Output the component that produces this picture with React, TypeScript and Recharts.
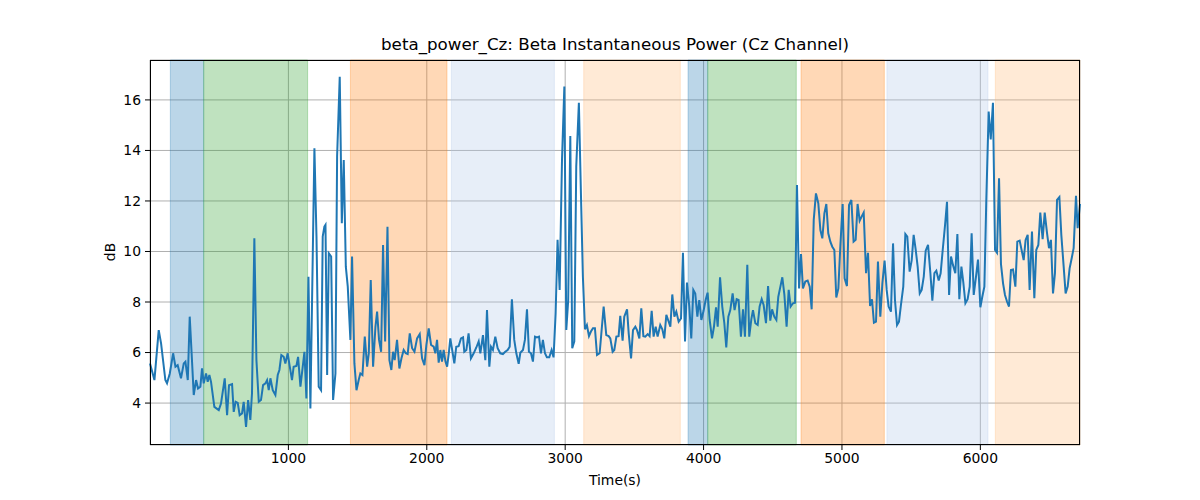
import { LineChart, Line, XAxis, YAxis, CartesianGrid, ReferenceArea } from 'recharts';

// sample times (s) and Cz beta power (dB)
const timeSec = [
  0, 32, 63, 80, 111, 123, 143, 167, 184, 200, 224, 244, 256, 273, 287, 302, 316, 333, 347, 364,
  376, 388, 405, 417, 429, 441, 465, 497, 513, 540, 557, 571, 593, 605, 619, 634, 648, 665, 677, 694,
  709, 725, 737, 754, 769, 786, 802, 817, 834, 846, 858, 870, 887, 906, 923, 935, 949, 966, 978, 995,
  1010, 1026, 1038, 1058, 1070, 1087,
  1116, 1130, 1145, 1159, 1188, 1203, 1219, 1236, 1248, 1260, 1268, 1280, 1292, 1309, 1323, 1340, 1352, 1371, 1386, 1400,
  1415, 1429, 1448, 1460, 1477, 1492, 1508, 1520, 1535, 1552, 1569, 1581, 1595, 1612, 1629, 1641, 1655, 1670, 1684, 1699,
  1716, 1730, 1744, 1756, 1768, 1785, 1802, 1817, 1833, 1848, 1862, 1877, 1894, 1911, 1930, 1949, 1966, 1983, 1997, 2014,
  2031, 2050, 2062, 2074, 2086, 2098, 2110, 2122, 2135, 2147, 2159,
  2170, 2199, 2213, 2230, 2247, 2262, 2271, 2286, 2302, 2319, 2339, 2358, 2375, 2387, 2406, 2423, 2435, 2452, 2464, 2478,
  2495, 2512, 2531, 2550, 2567, 2584, 2599, 2615, 2632, 2647, 2664, 2676, 2695, 2709, 2724, 2738, 2753, 2767, 2782, 2796,
  2811, 2825, 2839, 2854, 2868, 2885, 2902, 2916, 2931, 2945, 2960, 2977, 2994, 3008, 3022, 3037, 3051, 3066, 3080, 3099,
  3116, 3128, 3143, 3157, 3172, 3186, 3201, 3215, 3230, 3249,
  3278, 3297, 3314, 3326, 3343, 3355, 3370, 3386, 3398, 3415, 3427, 3447, 3459, 3476, 3490, 3507, 3519, 3536, 3550, 3565,
  3579, 3596, 3610, 3625, 3639, 3654, 3668, 3687, 3702, 3716, 3731, 3748, 3760, 3774, 3789, 3803, 3820, 3837, 3851, 3866,
  3880, 3897, 3911, 3926, 3940, 3955, 3969, 3984, 4000, 4015, 4029, 4044, 4061, 4075, 4090, 4102, 4119, 4135, 4150, 4164,
  4179, 4193, 4210, 4224, 4239, 4253, 4270, 4285, 4299, 4316, 4330, 4345, 4357, 4374, 4391,
  4405, 4420, 4434, 4451, 4466, 4482, 4495, 4511, 4526, 4540, 4555, 4569, 4584, 4600, 4615, 4629, 4646, 4661, 4675, 4690,
  4704, 4718, 4735, 4752, 4767, 4781, 4796, 4812, 4829, 4844, 4858, 4873, 4887, 4901, 4916, 4930, 4945, 4959, 4974, 4988,
  5005, 5019, 5036, 5051, 5068, 5084, 5099, 5113, 5128, 5142, 5157, 5174, 5188, 5203, 5217, 5231, 5246, 5260, 5277, 5292,
  5308, 5323, 5337, 5354, 5369, 5383, 5398, 5412, 5426, 5443, 5458, 5472, 5489,
  5504, 5518, 5533, 5547, 5562, 5576, 5591, 5605, 5622, 5639, 5653, 5668, 5682, 5699, 5713, 5728, 5745, 5759, 5774, 5788,
  5802, 5819, 5834, 5848, 5863, 5877, 5892, 5908, 5923, 5937, 5952, 5969, 5983, 6000, 6014, 6029, 6043, 6060, 6075, 6091,
  6106, 6120, 6135, 6149, 6164, 6178, 6193, 6207, 6221, 6236, 6253, 6267, 6284, 6298, 6313, 6327, 6342, 6356, 6373, 6390,
  6404, 6419, 6433, 6450, 6465, 6482, 6496, 6510, 6525, 6539, 6554, 6571, 6585, 6602, 6616, 6631, 6645, 6660, 6674, 6691,
  6703, 6720,
];

const betaDb = [
  5.57, 4.91, 6.89, 6.36, 4.91, 4.78, 5.17, 5.97, 5.44, 5.5, 4.98, 5.57, 5.64, 4.91, 7.42, 5.83, 4.32, 4.91, 4.58, 4.65,
  5.37, 4.78, 5.17, 4.84, 5.11, 4.84, 3.85, 3.72, 3.98, 4.98, 3.52, 4.71, 4.75, 3.65, 4.05, 4.01, 3.52, 3.59, 4.05, 3.06,
  4.12, 3.33, 4.38, 10.52, 5.7, 4.05, 4.12, 4.71, 4.78, 4.91, 4.51, 4.98, 4.51, 4.32, 5.11, 5.31, 5.9, 5.83, 5.57, 5.97,
  5.44, 4.91, 5.44, 5.47, 5.83, 4.65,
  6.03, 4.18, 9.0, 3.79, 14.09, 10.59, 4.65, 4.51, 10.59, 10.98, 11.05, 5.11, 9.93, 9.8, 4.12, 5.17, 13.76, 16.92, 11.12, 13.62,
  9.4, 8.61, 6.5, 9.8, 5.57, 4.51, 4.91, 5.17, 5.11, 6.63, 5.44, 5.97, 8.87, 5.44, 7.02, 7.62, 6.5, 6.03, 10.26, 6.44,
  10.98, 5.7, 5.31, 6.03, 5.7, 6.5, 5.37, 5.77, 6.1, 5.97, 5.94, 6.76, 6.17, 6.03, 6.56, 6.73, 5.77, 5.5, 6.3, 6.96,
  6.3, 6.23, 5.97, 6.5, 5.6, 6.1, 5.64, 6.1, 5.64, 5.44, 5.97,
  6.56, 5.57, 6.23, 6.25, 6.56, 6.6, 6.03, 6.1, 6.76, 5.77, 5.97, 6.2, 6.44, 5.97, 6.69, 5.7, 7.68, 5.44, 6.23, 6.1,
  6.63, 6.17, 5.97, 5.94, 6.03, 6.1, 6.23, 8.11, 6.5, 5.97, 5.55, 5.99, 6.1, 6.5, 7.71, 6.03, 5.97, 5.64, 6.63, 6.6,
  6.63, 5.97, 6.5, 5.97, 5.81, 5.81, 6.1, 5.81, 7.55, 10.46, 8.48, 13.62, 16.53, 6.89, 8.08, 14.57, 6.17, 6.44, 13.36, 15.89,
  11.78, 9.0, 6.92, 7.09, 6.65, 6.83, 6.96, 6.96, 5.9, 5.97,
  7.82, 6.69, 6.65, 6.56, 6.03, 6.1, 6.63, 6.65, 7.45, 6.47, 7.42, 7.71, 6.76, 5.77, 6.89, 7.02, 6.89, 6.56, 7.75, 6.65,
  6.63, 6.73, 6.65, 7.65, 6.63, 7.02, 6.63, 7.09, 6.92, 6.56, 7.49, 7.22, 7.02, 8.3, 7.42, 7.62, 7.22, 7.35, 9.95, 6.44,
  8.77, 7.82, 6.56, 8.48, 8.34, 7.42, 8.08, 7.29, 7.65, 8.08, 8.37, 7.29, 6.56, 7.02, 7.79, 7.02, 8.98, 7.82, 7.16, 6.2,
  7.42, 7.68, 8.34, 7.68, 8.11, 8.08, 6.63, 7.71, 6.63, 9.47, 6.63, 7.31, 7.68, 7.16, 7.09,
  7.82, 8.11, 7.88, 7.16, 8.63, 7.26, 7.71, 7.42, 7.29, 8.21, 8.61, 8.98, 8.28, 7.02, 8.48, 7.82, 7.95, 7.97, 12.63, 8.54,
  9.9, 8.54, 8.81, 8.85, 8.61, 7.71, 11.25, 12.3, 11.91, 10.85, 10.52, 11.51, 11.88, 10.72, 10.39, 10.19, 10.06, 8.18, 8.54, 10.19,
  11.88, 8.94, 8.63, 11.84, 12.04, 10.39, 10.46, 11.88, 11.22, 11.38, 11.54, 9.14, 9.95, 7.84, 8.11, 7.18, 7.22, 9.6, 7.42, 8.74,
  9.64, 8.48, 7.82, 7.62, 10.32, 8.08, 7.09, 7.22, 7.88, 8.61, 10.69, 10.59, 9.2,
  9.66, 10.66, 10.06, 9.4, 8.34, 8.48, 9.0, 10.03, 10.26, 9.14, 8.05, 9.14, 9.24, 8.85, 9.14, 10.06, 11.05, 11.97, 8.28, 9.8,
  9.47, 9.14, 10.69, 8.11, 9.4, 8.77, 7.95, 8.11, 8.61, 10.72, 8.28, 9.02, 9.68, 7.79, 8.21, 8.61, 12.04, 15.54, 14.44, 15.89,
  10.06, 9.95, 12.9, 9.5, 8.74, 8.28, 8.01, 7.82, 9.27, 9.29, 8.61, 10.39, 10.43, 10.06, 9.66, 10.46, 10.66, 8.48, 10.79, 8.15,
  10.06, 10.26, 11.54, 10.49, 11.54, 10.72, 10.13, 10.46, 8.34, 9.14, 12.04, 12.15, 10.66, 9.4, 8.34, 8.61, 9.33, 9.73, 10.13, 12.2,
  10.92, 11.88,
];

// shaded task segments
const bandStart = [147, 388, 1448, 2178, 3134, 3888, 4030, 4704, 5325, 6108];
const bandEnd = [388, 1139, 2146, 2922, 3832, 4030, 4670, 5306, 6055, 6720];
const bandKind = ['blue', 'green', 'orange', 'lightblue', 'lightorange', 'blue', 'green', 'orange', 'lightblue', 'lightorange'];

const xTicks = [1000, 2000, 3000, 4000, 5000, 6000];
const yTicks = [4, 6, 8, 10, 12, 14, 16];

const bandColors: Record<string, string> = {
  blue: '#1f77b4',
  green: '#2ca02c',
  orange: '#ff7f0e',
  lightblue: '#aec7e8',
  lightorange: '#ffbb78',
};

const font = '"DejaVu Sans", sans-serif';

export default function App() {
  const data = timeSec.map((t, i) => ({ time: t, db: betaDb[i] }));

  return (
    <div style={{ position: 'absolute', left: 0, top: 0, width: 1200, height: 500, background: '#fff', fontFamily: font }}>
      <div style={{ position: 'absolute', left: 150, width: 930, top: 34, textAlign: 'center', fontSize: 16.7, color: '#000' }}>
        beta_power_Cz: Beta Instantaneous Power (Cz Channel)
      </div>

      <LineChart width={1200} height={500} data={data} margin={{ top: 60, right: 120, bottom: 25, left: 100 }}>
        <CartesianGrid stroke="#b0b0b0" strokeWidth={1} />
        {bandStart.map((s, i) => (
          <ReferenceArea
            key={i}
            x1={s}
            x2={bandEnd[i]}
            fill={bandColors[bandKind[i]]}
            fillOpacity={0.3}
            stroke={bandColors[bandKind[i]]}
            strokeOpacity={0.3}
          />
        ))}
        <XAxis
          dataKey="time"
          type="number"
          domain={[0, 6720]}
          ticks={xTicks}
          height={30}
          axisLine={false}
          tickLine={{ stroke: '#000' }}
          tickSize={5}
          tickMargin={3}
          tick={{ fill: '#000', fontSize: 13.9, fontFamily: font }}
        />
        <YAxis
          type="number"
          domain={[2.34, 17.58]}
          ticks={yTicks}
          width={50}
          axisLine={false}
          tickLine={{ stroke: '#000' }}
          tickSize={5}
          tickMargin={4}
          tick={{ fill: '#000', fontSize: 13.9, fontFamily: font }}
          allowDataOverflow
        />
        <Line
          type="linear"
          dataKey="db"
          stroke="#1f77b4"
          strokeWidth={2}
          dot={false}
          activeDot={false}
          isAnimationActive={false}
        />
      </LineChart>

      {/* axes frame */}
      <div
        style={{
          position: 'absolute',
          left: 150,
          top: 60,
          width: 930,
          height: 385,
          border: '1px solid #000',
          boxSizing: 'border-box',
          pointerEvents: 'none',
        }}
      />

      <div style={{ position: 'absolute', left: 150, width: 930, top: 472, textAlign: 'center', fontSize: 13.9, color: '#000' }}>
        Time(s)
      </div>
      <div
        style={{
          position: 'absolute',
          left: 110,
          top: 252,
          transform: 'translate(-50%, -50%) rotate(-90deg)',
          fontSize: 13.9,
          color: '#000',
        }}
      >
        dB
      </div>
    </div>
  );
}
